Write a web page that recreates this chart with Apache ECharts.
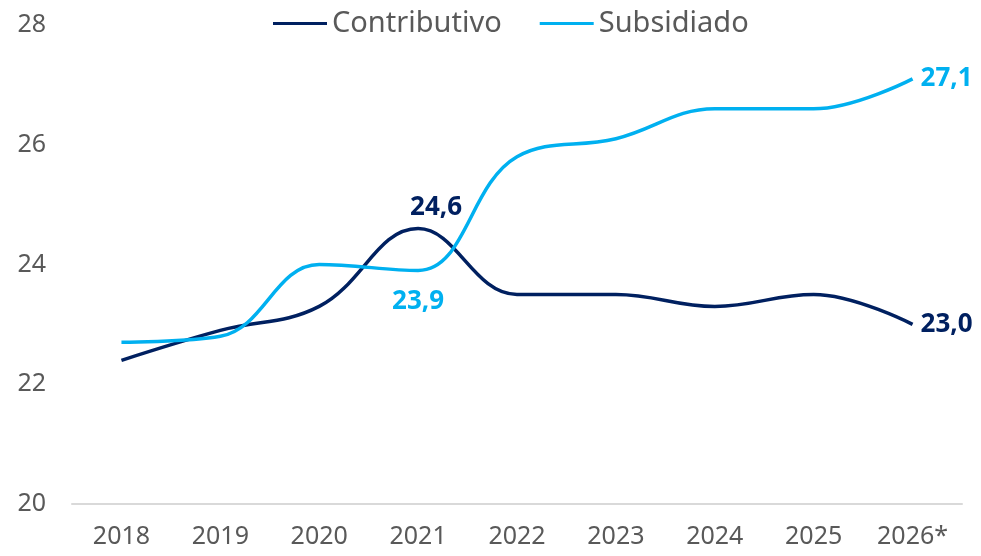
<!DOCTYPE html>
<html>
<head>
<meta charset="utf-8">
<script src="https://cdn.jsdelivr.net/npm/echarts@6/dist/echarts.min.js"></script>
<style>
  html, body { margin: 0; padding: 0; background: #fff; }
  #chart { width: 981px; height: 556px; }
</style>
</head>
<body>
<div id="chart"></div>
<script>
const years = ['2018', '2019', '2020', '2021', '2022', '2023', '2024', '2025', '2026*']
const contributivo = [22.4, 22.9, 23.3, 24.6, 23.5, 23.5, 23.3, 23.5, 23.0]
const subsidiado = [22.7, 22.8, 24.0, 23.9, 25.8, 26.1, 26.6, 26.6, 27.1]
const yTicks = [20, 22, 24, 26, 28]

const dark = '#002060'
const light = '#00B0F0'
const font = 'Noto Sans'
const last = years.length - 1

// etiquetas solo en 2021 y en el último año
function buildData (values, color, midPos, midOffset) {
  return values.map((v, i) => {
    const base = {
      show: i === 3 || i === last,
      color: color,
      fontFamily: font,
      fontWeight: 'bold',
      fontSize: 26,
      formatter: p => p.value.toFixed(1).replace('.', ',')
    }
    if (i === last) {
      Object.assign(base, { position: 'right', distance: 8 })
    } else if (i === 3) {
      Object.assign(base, { position: midPos, distance: 8, offset: midOffset })
    }
    return { value: v, label: base }
  })
}

const chart = echarts.init(document.getElementById('chart'))
chart.setOption({
  animation: false,
  textStyle: { fontFamily: font },
  legend: {
    top: 4,
    left: 268,
    itemWidth: 54,
    itemHeight: 3,
    itemGap: 38,
    icon: 'rect',
    textStyle: { fontSize: 29, color: '#595959', fontFamily: font, padding: [0, 0, 0, 0] },
    data: ['Contributivo', 'Subsidiado']
  },
  grid: { left: 72, right: 19, top: 25, bottom: 52 },
  xAxis: {
    type: 'category',
    data: years,
    axisLine: { lineStyle: { color: '#d9d9d9', width: 2 } },
    axisTick: { show: false },
    axisLabel: { color: '#595959', fontSize: 25, margin: 20, fontFamily: font }
  },
  yAxis: {
    type: 'value',
    min: yTicks[0],
    max: yTicks[yTicks.length - 1],
    interval: 2,
    splitLine: { show: false },
    axisLine: { show: false },
    axisTick: { show: false },
    axisLabel: { color: '#595959', fontSize: 25, margin: 26, fontFamily: font }
  },
  series: [
    {
      name: 'Contributivo',
      type: 'line',
      smooth: 0.4,
      symbol: 'circle',
      symbolSize: 0.1,
      data: buildData(contributivo, dark, 'top', [18, 0]),
      lineStyle: { color: dark, width: 3.5 },
      itemStyle: { color: dark }
    },
    {
      name: 'Subsidiado',
      type: 'line',
      smooth: 0.4,
      symbol: 'circle',
      symbolSize: 0.1,
      data: buildData(subsidiado, light, 'bottom', [0, 10]),
      lineStyle: { color: light, width: 3.5 },
      itemStyle: { color: light }
    }
  ]
})
</script>
</body>
</html>
